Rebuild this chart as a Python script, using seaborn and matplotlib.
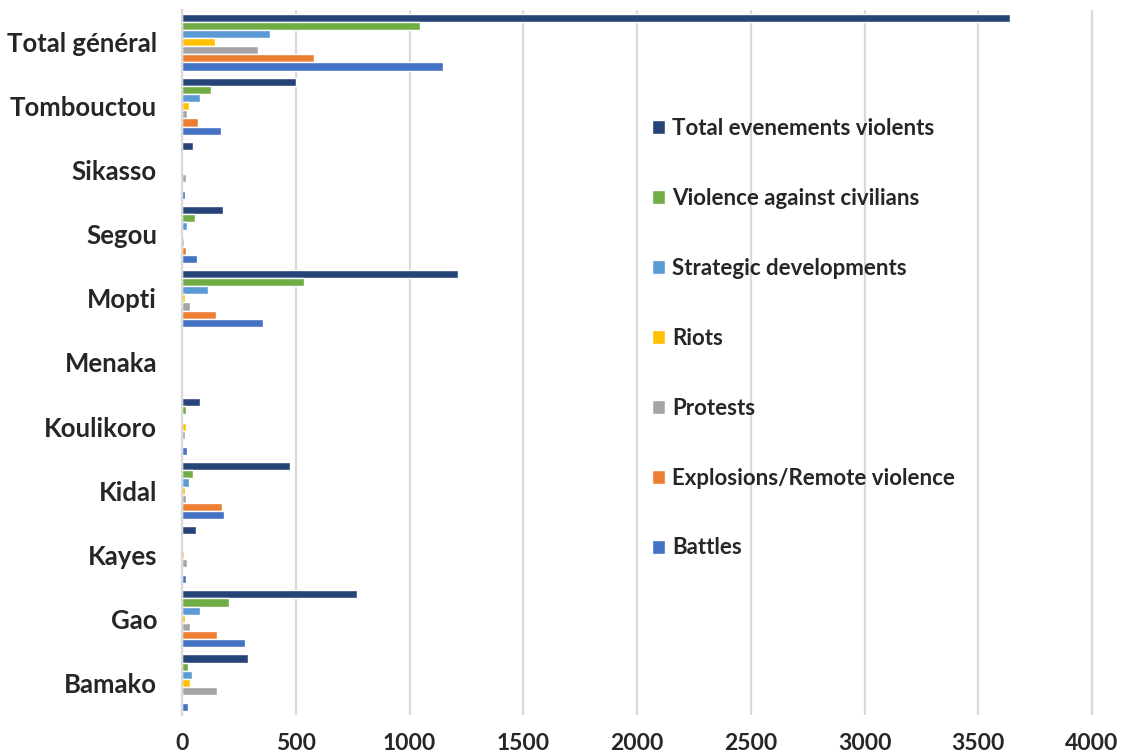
import numpy as np
import pandas as pd
import matplotlib
matplotlib.use("Agg")
import matplotlib.pyplot as plt
import seaborn as sns

# regions, top to bottom
regions = ["Total général", "Tombouctou", "Sikasso", "Segou", "Mopti", "Menaka",
           "Koulikoro", "Kidal", "Kayes", "Gao", "Bamako"]

series = ["Total evenements violents", "Violence against civilians",
          "Strategic developments", "Riots", "Protests",
          "Explosions/Remote violence", "Battles"]

total_violents = [3640, 501, 48, 180, 1214, 0, 79, 475, 62, 770, 290]
violence_civ   = [1045, 128, 6, 57, 536, 0, 18, 48, 4, 207, 26]
strategic      = [387, 79, 4, 22, 114, 0, 3, 31, 0, 79, 44]
riots          = [145, 31, 5, 5, 13, 0, 18, 13, 8, 13, 35]
protests       = [334, 22, 18, 9, 35, 0, 13, 18, 22, 35, 154]
explosions     = [580, 70, 0, 18, 150, 0, 0, 176, 0, 154, 5]
battles        = [1148, 171, 15, 66, 356, 0, 22, 185, 18, 277, 26]

colors = ["#264478", "#70AD47", "#5B9BD5", "#FFC000", "#A5A5A5", "#ED7D31", "#4472C4"]

values = [total_violents, violence_civ, strategic, riots, protests, explosions, battles]
rows = []
for s, vals in zip(series, values):
    for r, v in zip(regions, vals):
        rows.append({"region": r, "serie": s, "count": v})
df = pd.DataFrame(rows)

sns.set_style("white")
plt.rcParams["font.family"] = ["Lato", "DejaVu Sans"]

fig = plt.figure(figsize=(11.24, 7.56), dpi=100)
ax = fig.add_axes([182 / 1124, 41 / 756, 918 / 1124, 705 / 756])

sns.barplot(data=df, x="count", y="region", hue="serie", order=regions,
            hue_order=series, palette=colors, orient="h", width=0.89,
            saturation=1, ax=ax, legend=True)

ax.set_xlim(0, 4035)
ax.set_xticks(np.arange(0, 4001, 500))
ax.xaxis.grid(True, color="#D9D9D9", linewidth=1.6)
ax.set_axisbelow(True)
for side in ["top", "right", "bottom"]:
    ax.spines[side].set_visible(False)
ax.spines["left"].set_color("#D9D9D9")
ax.spines["left"].set_linewidth(1.6)
ax.tick_params(axis="x", length=0, pad=13, labelsize=16.5)
ax.tick_params(axis="y", length=0, pad=18, labelsize=18.5)
for lab in ax.get_xticklabels() + ax.get_yticklabels():
    lab.set_fontweight("bold")
ax.set_xlabel("")
ax.set_ylabel("")

leg = ax.legend(loc="upper left", bbox_to_anchor=(0.49, 0.875), frameon=False,
                prop={"weight": "bold", "size": 16}, labelspacing=2.2,
                handlelength=0.6, handleheight=0.6, handletextpad=0.3)

fig.savefig("out.png", dpi=100)
